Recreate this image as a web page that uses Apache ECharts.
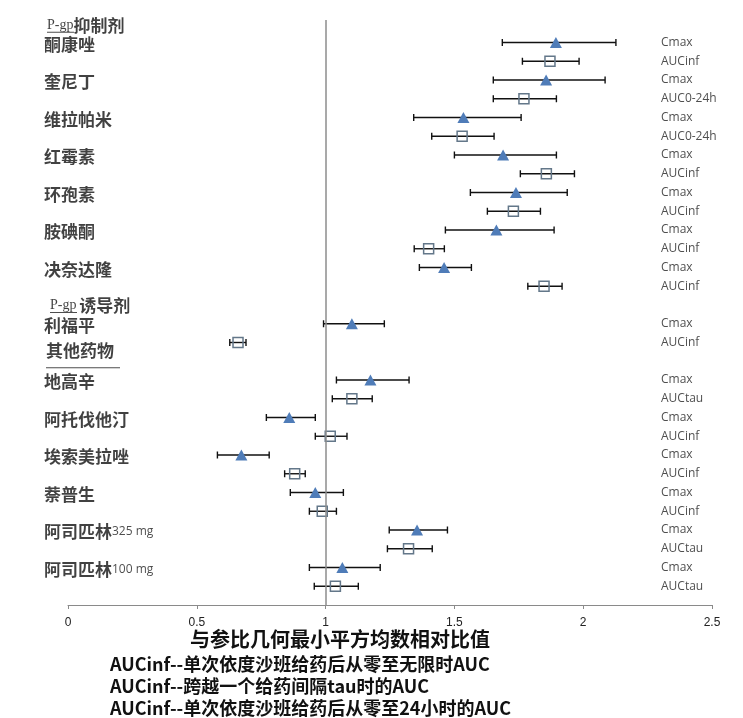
<!DOCTYPE html>
<html>
<head>
<meta charset="utf-8">
<script src="https://cdn.jsdelivr.net/npm/echarts@6/dist/echarts.min.js"></script>
<style>
  html, body { margin: 0; padding: 0; background: #fff; }
  #chart { width: 743px; height: 718px; }
</style>
</head>
<body>
<div id="chart"></div>
<script>
// ---- data ----
const drugs = ['酮康唑', '奎尼丁', '维拉帕米', '红霉素', '环孢素', '胺碘酮', '决奈达隆',
  '利福平', '地高辛', '阿托伐他汀', '埃索美拉唑', '萘普生', '阿司匹林325 mg', '阿司匹林 100 mg'];
const groupNames = ['P-gp抑制剂', 'P-gp 诱导剂', '其他药物'];
const groupFirstDrug = [0, 7, 8];
const aucLabels = ['AUCinf', 'AUC0-24h', 'AUC0-24h', 'AUCinf', 'AUCinf', 'AUCinf', 'AUCinf',
  'AUCinf', 'AUCtau', 'AUCinf', 'AUCinf', 'AUCinf', 'AUCtau', 'AUCtau'];
const cmaxLabel = 'Cmax';
const cmaxGMR  = [1.894, 1.856, 1.535, 1.689, 1.739, 1.663, 1.460, 1.102, 1.174, 0.859, 0.673, 0.960, 1.355, 1.065];
const cmaxLow  = [1.686, 1.651, 1.342, 1.500, 1.562, 1.465, 1.364, 0.992, 1.042, 0.770, 0.580, 0.863, 1.247, 0.937];
const cmaxHigh = [2.127, 2.085, 1.759, 1.896, 1.938, 1.887, 1.566, 1.228, 1.324, 0.960, 0.781, 1.069, 1.473, 1.212];
const aucGMR   = [1.871, 1.770, 1.530, 1.857, 1.729, 1.400, 1.848, 0.660, 1.102, 1.018, 0.880, 0.987, 1.322, 1.038];
const aucLow   = [1.764, 1.651, 1.412, 1.756, 1.628, 1.344, 1.785, 0.628, 1.026, 0.960, 0.841, 0.937, 1.240, 0.956];
const aucHigh  = [1.984, 1.896, 1.654, 1.966, 1.834, 1.461, 1.918, 0.691, 1.181, 1.083, 0.921, 1.042, 1.414, 1.127];
const xTicks = [0, 0.5, 1, 1.5, 2, 2.5];
const xName = '与参比几何最小平方均数相对比值';
const notes = ['AUCinf--单次依度沙班给药后从零至无限时AUC',
  'AUCinf--跨越一个给药间隔tau时的AUC',
  'AUCinf--单次依度沙班给药后从零至24小时的AUC'];
const refValue = 1;

// ---- row layout (slot index from bottom) ----
let slot = 31;
const headerRows = [];
const drugRows = [];
const cmaxSlots = [], aucSlots = [];
drugs.forEach((d, i) => {
  const g = groupFirstDrug.indexOf(i);
  if (g >= 0) { headerRows.push({ name: groupNames[g], slot: slot, g: g }); slot -= 1; }
  cmaxSlots.push(slot); aucSlots.push(slot - 1);
  drugRows.push({ name: d, slot: slot });
  slot -= 2;
});

const CJK = "'Noto Sans CJK SC', 'Noto Sans', sans-serif";

function richify(t, bStyle) {
  return t.replace(/P-gp/g, '\u0001').replace(/(\d+ mg)/g, '\u0002$1\u0003')
    .split(/(\u0001|\u0002[^\u0003]*\u0003)/).filter(s => s.length).map(s => {
      if (s === '\u0001') return '{pg|P-gp}';
      if (s[0] === '\u0002') return '{sm|' + s.slice(1, -1) + '}';
      if (s.trim() === '') return '{sp|' + s + '}';
      const lead = s.match(/^\s*/)[0];
      return (lead ? '{sp|' + lead + '}' : '') + '{' + bStyle + '|' + s.trim() + '}';
    }).join('');
}

const leftLabelData = [];
headerRows.forEach(h => {
  let item;
  if (h.g === 2) {
    item = { value: [0, h.slot, h.name, 'ul'], label: { offset: [-22, -7] } };
  } else if (h.g === 1) {
    item = { value: [0, h.slot, h.name, 'pu'], label: { offset: [-18, 1] } };
  } else {
    item = { value: [0, h.slot, h.name, 'pu'], label: { offset: [-21, 2] } };
  }
  leftLabelData.push(item);
});
drugRows.forEach(r => leftLabelData.push({ value: [0, r.slot, r.name, ''], label: { offset: [-24, 2] } }));

const rightLabelData = [];
drugs.forEach((d, i) => {
  rightLabelData.push([xTicks[xTicks.length - 1], cmaxSlots[i], cmaxLabel]);
  rightLabelData.push([xTicks[xTicks.length - 1], aucSlots[i], aucLabels[i]]);
});

const errData = [];
drugs.forEach((d, i) => {
  errData.push([cmaxLow[i], cmaxSlots[i], cmaxHigh[i]]);
  errData.push([aucLow[i], aucSlots[i], aucHigh[i]]);
});

const chart = echarts.init(document.getElementById('chart'), null, { renderer: 'canvas' });
chart.setOption({
  animation: false,
  backgroundColor: '#fff',
  title: [
    { text: xName, left: 340, top: 629, textAlign: 'center', padding: 0,
      textStyle: { fontFamily: CJK, fontSize: 20, fontWeight: 'bold', color: '#111' } },
    { text: notes.join('\n'), left: 110, top: 653, padding: 0,
      textStyle: { fontFamily: CJK, fontSize: 18, fontWeight: 'bold', color: '#111', lineHeight: 22 } }
  ],
  grid: { left: 68, right: 31, top: 20, bottom: 113 },
  xAxis: {
    type: 'value', min: xTicks[0], max: xTicks[xTicks.length - 1], interval: 0.5,
    axisLine: { lineStyle: { color: '#8a8a8a', width: 1 } },
    axisTick: { show: true, length: 4, lineStyle: { color: '#8a8a8a' } },
    splitLine: { show: false },
    axisLabel: { margin: 12, color: '#222', fontSize: 12,
      fontFamily: "'Liberation Sans Narrow', 'Liberation Sans', sans-serif",
      formatter: v => String(v) }
  },
  yAxis: { type: 'value', min: 0, max: 31.2, show: false },
  series: [
    {
      type: 'custom', name: 'ci', z: 2,
      renderItem: (params, api) => {
        const y = api.value(1);
        const a = api.coord([api.value(0), y]);
        const b = api.coord([api.value(2), y]);
        const c = 3.5;
        const st = { stroke: '#111', lineWidth: 1.4 };
        return { type: 'group', children: [
          { type: 'line', shape: { x1: a[0], y1: a[1], x2: b[0], y2: b[1] }, style: st },
          { type: 'line', shape: { x1: a[0], y1: a[1] - c, x2: a[0], y2: a[1] + c }, style: st },
          { type: 'line', shape: { x1: b[0], y1: b[1] - c, x2: b[0], y2: b[1] + c }, style: st }
        ] };
      },
      encode: { x: [0, 2], y: 1 },
      data: errData,
      markLine: {
        silent: true, symbol: 'none', label: { show: false },
        lineStyle: { color: '#8c8c8c', width: 1.5, type: 'solid' },
        data: [{ xAxis: refValue }]
      }
    },
    {
      type: 'scatter', name: 'Cmax', z: 3, symbol: 'triangle', symbolSize: [12, 11],
      itemStyle: { color: '#4F7CB8', opacity: 1 },
      data: cmaxGMR.map((v, i) => [v, cmaxSlots[i]])
    },
    {
      type: 'scatter', name: 'AUC', z: 3, symbol: 'rect', symbolSize: 10,
      itemStyle: { color: 'rgba(0,0,0,0)', borderColor: '#637789', borderWidth: 1.5, opacity: 1 },
      data: aucGMR.map((v, i) => [v, aucSlots[i]])
    },
    {
      type: 'scatter', name: 'leftLabels', silent: true, symbolSize: 1,
      itemStyle: { color: 'rgba(0,0,0,0)' },
      label: {
        show: true, position: 'inside', align: 'left', verticalAlign: 'middle',
        formatter: p => {
          if (p.value[3] === 'pu') return richify(p.value[2], 'h') + '\n{pu|}';
          if (p.value[3] === 'ul') return richify(p.value[2], 'b') + '\n{ul|}';
          return richify(p.value[2], 'b');
        },
        rich: {
          b: { fontFamily: CJK, fontSize: 17, fontWeight: 'bold', color: '#111', lineHeight: 20 },
          h: { fontFamily: CJK, fontSize: 17, fontWeight: 'bold', color: '#111', lineHeight: 13 },
          sp: { fontFamily: CJK, fontSize: 13, color: '#111', lineHeight: 13 },
          pg: { fontFamily: "'Liberation Serif', serif", fontSize: 14, color: '#111', lineHeight: 13 },
          sm: { fontFamily: "'Open Sans', sans-serif", fontSize: 12, color: '#222', verticalAlign: 'middle' },
          pu: { width: 27, height: 1, lineHeight: 1, backgroundColor: '#222' },
          ul: { width: 74, height: 1, lineHeight: 8, backgroundColor: '#222', verticalAlign: 'bottom' }
        }
      },
      data: leftLabelData
    },
    {
      type: 'scatter', name: 'rightLabels', silent: true, symbolSize: 1,
      itemStyle: { color: 'rgba(0,0,0,0)' },
      label: {
        show: true, position: 'inside', align: 'left', verticalAlign: 'middle', offset: [-51, 0],
        formatter: p => p.value[2],
        fontFamily: "'Open Sans', sans-serif", fontSize: 12, color: '#222'
      },
      data: rightLabelData
    }
  ]
});
</script>
</body>
</html>
